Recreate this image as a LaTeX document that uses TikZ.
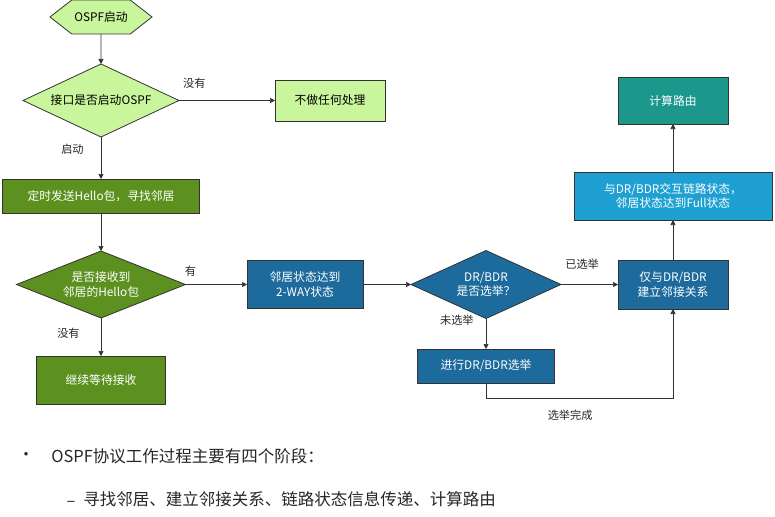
\documentclass[tikz,border=0pt]{standalone}
\usepackage{fontspec}
\setmainfont{Noto Sans CJK SC}
\usetikzlibrary{shapes.geometric, shapes.symbols, arrows.meta, positioning}

\definecolor{lgreen}{HTML}{C9F59C}
\definecolor{dgreen}{HTML}{5C901F}
\definecolor{dblue}{HTML}{1D6A9C}
\definecolor{lblue}{HTML}{1EA0D2}
\definecolor{tealc}{HTML}{1B978B}
\definecolor{edge}{HTML}{333333}

\begin{document}
\begin{tikzpicture}[x=1pt, y=-1pt,
    every node/.style={font=\fontsize{11.8}{14.5}\selectfont, outer sep=0pt},
    box/.style={draw=edge, line width=0.8pt, inner sep=2pt, align=center},
    decide/.style={diamond, draw=edge, line width=0.8pt, inner sep=0pt, align=center, aspect=2.2},
    arr/.style={draw=edge, line width=0.7pt, -{Triangle[length=5pt, width=5pt]}},
    lbl/.style={text=black!85, font=\fontsize{11.2}{13}\selectfont},
    summary/.style={font=\fontsize{16.5}{20}\selectfont, text=black!85},
  ]
  \useasboundingbox (0,0) rectangle (775,516);

  % left column
  \node[box, signal, signal to=west and east, signal pointer angle=76,
        fill=lgreen, minimum width=102, minimum height=34] (start) at (101,17) {OSPF启动};
  \node[decide, fill=lgreen, minimum width=156, minimum height=73] (iface) at (101,100.5) {接口是否启动OSPF};
  \node[box, fill=lgreen, minimum width=110, minimum height=41] (noop) at (330,100.5) {不做任何处理};
  \node[box, fill=dgreen, text=white, minimum width=197, minimum height=34] (hello) at (101,196) {定时发送Hello包，寻找邻居};
  \node[decide, fill=dgreen, text=white, minimum width=169, minimum height=67] (recv) at (101,284.5) {是否接收到\\邻居的Hello包};
  \node[box, fill=dgreen, text=white, minimum width=129, minimum height=48] (wait) at (101,380) {继续等待接收};

  % right part
  \node[box, fill=dblue, text=white, minimum width=116, minimum height=48] (twoway) at (305,284.5) {邻居状态达到\\2-WAY状态};
  \node[decide, fill=dblue, text=white, minimum width=150, minimum height=68] (drq) at (486,284.5) {DR/BDR\\是否选举？};
  \node[box, fill=dblue, text=white, minimum width=137, minimum height=34] (elect) at (486,366) {进行DR/BDR选举};
  \node[box, fill=dblue, text=white, minimum width=110, minimum height=49] (adj) at (673,284.5) {仅与DR/BDR\\建立邻接关系};
  \node[box, fill=lblue, text=white, minimum width=198, minimum height=48] (full) at (673,196) {与DR/BDR交互链路状态，\\邻居状态达到Full状态};
  \node[box, fill=tealc, text=white, minimum width=110, minimum height=47] (route) at (673,100.5) {计算路由};

  \draw[arr] (start) -- (iface);
  \draw[arr] (iface) -- node[lbl, pos=0.16, above=9pt] {没有} (noop);
  \draw[arr] (iface) -- node[lbl, pos=0.29, left=14pt] {启动} (hello);
  \draw[arr] (hello) -- (recv);
  \draw[arr] (recv) -- node[lbl, pos=0.08, above=5pt] {有} (twoway);
  \draw[arr] (recv) -- node[lbl, pos=0.4, left=18pt] {没有} (wait);
  \draw[arr] (twoway) -- (drq);
  \draw[arr] (drq) -- node[lbl, pos=0.37, above=12pt] {已选举} (adj);
  \draw[arr] (drq) -- node[lbl, pos=0.06, left=9pt] {未选举} (elect);
  \draw[arr] (elect.south) -- ++(0,15) coordinate (turn)
    -- node[lbl, pos=0.45, below=9pt] {选举完成} (turn -| adj.south) -- (adj.south);
  \draw[arr] (adj) -- (full);
  \draw[arr] (full) -- (route);

  % summary text
  \node[summary] (dot) at (26,456) {•};
  \node[summary, anchor=west] (line1) at (48,456) {OSPF协议工作过程主要有四个阶段：};
  \node[summary] (dash) at (71,504) {–};
  \node[summary, anchor=west] (line2) at (80,499) {寻找邻居、建立邻接关系、链路状态信息传递、计算路由};
\end{tikzpicture}
\end{document}
